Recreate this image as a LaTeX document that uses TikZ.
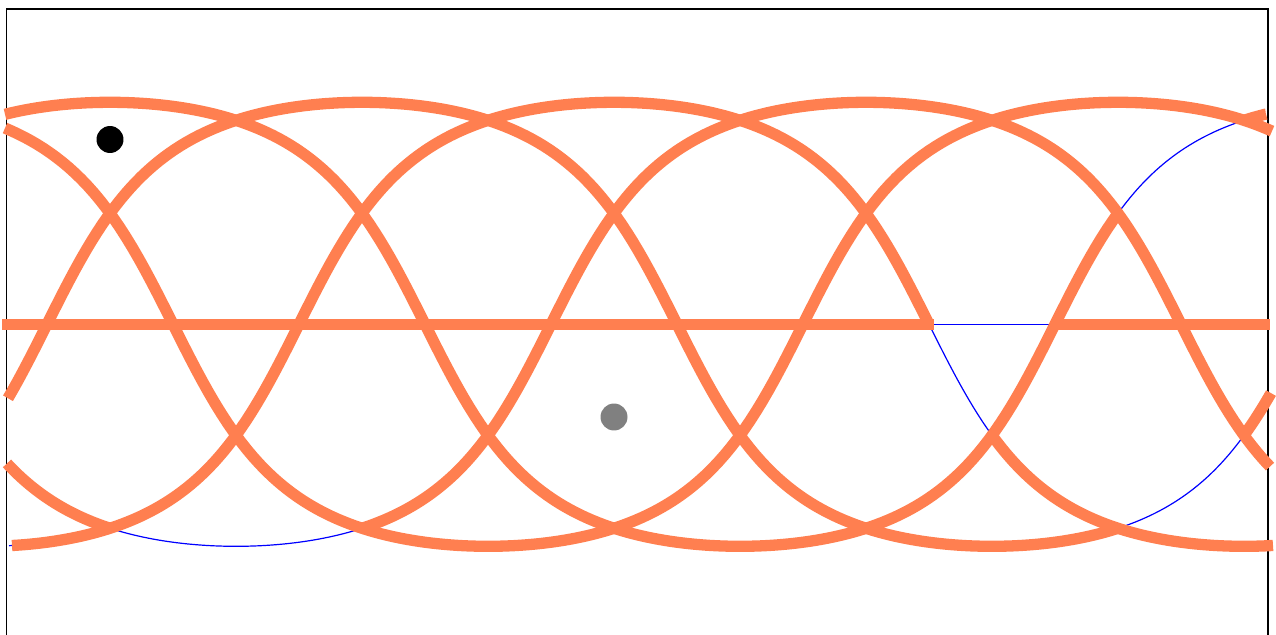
\documentclass[tikz,border=0pt]{standalone}
\usepackage{amsmath}

\definecolor{coralline}{RGB}{255,127,80}

% arc of a great circle, x in px: peak at #2, drawn from #3 to #4
\newcommand{\gcarc}[4][]{\draw[#1] plot[domain=#3:#4, samples=200] (\x,{gc(\x,#2)});}

\begin{document}
\begin{tikzpicture}[x=0.02cm, y=-0.02cm,
  declare function={gc(\t,\c)=324.3-3.5*atan(2*cos((\t-\c)*2/7));},
  frameline/.style={black, line width=1.1*0.02cm},
  thinarc/.style={blue, line width=1.2*0.02cm},
  thickarc/.style={coralline, line width=11.3*0.02cm},
  every node/.style={circle, inner sep=0pt, minimum size=0.54cm}]
\useasboundingbox (0,0) rectangle (1276,635);
% --- Frame ---
\draw[frameline] (6.5,635)--(6.5,9)--(1268,9)--(1268,635);
%
% --- Thin arcs ---
\gcarc[thinarc]{110}{1118}{1244}
\gcarc[thinarc]{362}{1118}{1244}
\gcarc[thinarc]{614}{928}{992}
\gcarc[thinarc]{614}{9}{13}
\gcarc[thinarc]{866}{110}{362}
\draw[thinarc] (928,324.3)--(1054,324.3);
%
% --- Thick arcs ---
\gcarc[thickarc]{110}{5}{1118}
\gcarc[thickarc]{110}{1244}{1266}
\gcarc[thickarc]{362}{8}{1118}
\gcarc[thickarc]{362}{1244}{1271}
\gcarc[thickarc]{614}{12}{928}
\gcarc[thickarc]{614}{992}{1273}
\gcarc[thickarc]{866}{7}{110}
\gcarc[thickarc]{866}{362}{1270}
\gcarc[thickarc]{1118}{5}{1272}
% --- Equator ---
\draw[thickarc] (2,324.3)--(934,324.3);
\draw[thickarc] (1054,324.3)--(1270,324.3);
%
% --- Points ---
\node[fill=black] (p1) at (110,139.5) {};
\node[fill=gray] (p2) at (614,417) {};
%
\end{tikzpicture}
\end{document}
